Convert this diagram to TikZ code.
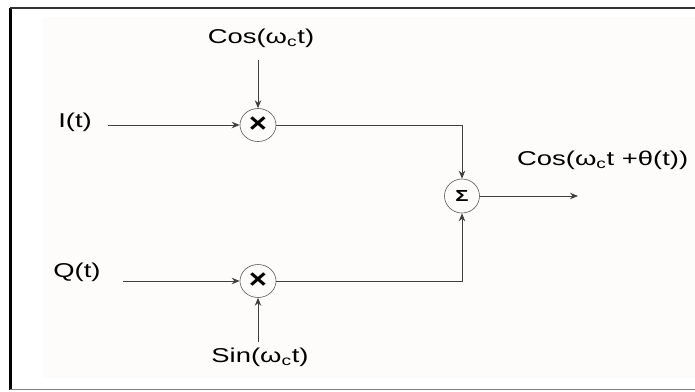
\documentclass[tikz,border=0pt]{standalone}
\usepackage{fontspec}
\setmainfont{Liberation Sans}
\usetikzlibrary{arrows.meta,shapes.geometric}
\newcommand{\wide}[1]{\scalebox{1.37}[1]{#1}}
\definecolor{paper}{RGB}{253,252,250}
\begin{document}
\begin{tikzpicture}[x=1pt,y=-1pt,
  lbl/.style={font=\fontsize{20}{22}\selectfont, inner sep=0pt},
  op/.style={ellipse, draw=black!65, line width=0.6pt, minimum width=36pt, minimum height=33pt, inner sep=0pt},
  wire/.style={draw=black!75, line width=0.9pt},
  arr/.style={wire, -{Stealth[length=8pt,width=6.5pt]}}]
\useasboundingbox (0,0) rectangle (695,391);
\fill[white] (0,0) rectangle (695,391);
\fill[paper] (43,17) rectangle (695,378);
\draw[black, line width=2.4pt] (10.5,8) -- (10.5,390);
\draw[black!80, line width=1.6pt] (9.5,8) -- (695,8);
\draw[black!50, line width=1.4pt] (9.5,389.5) -- (695,389.5);
\node[op] (m1) at (258,125) {\scalebox{1.15}[1]{\fontsize{27}{27}\selectfont\bfseries ×}};
\node[op] (m2) at (258,281) {\scalebox{1.15}[1]{\fontsize{27}{27}\selectfont\bfseries ×}};
\node[op, minimum width=35pt, minimum height=34pt] (s) at (462,196) {\wide{\fontsize{16}{16}\selectfont\bfseries Σ}};
\node[lbl] (cos) at (261,38) {\wide{Cos(ω\textsubscript{c}t)}};
\node[lbl] (sin) at (260,357) {\wide{Sin(ω\textsubscript{c}t)}};
\node[lbl] (i) at (75,122) {\wide{I(t)}};
\node[lbl] (q) at (77,272) {\wide{Q(t)}};
\node[lbl, anchor=west] (out) at (517,160) {\wide{Cos(ω\textsubscript{c}t +θ(t))}};
\coordinate (istart) at (108,125);
\coordinate (qstart) at (123,281);
\coordinate (cosend) at (258,60);
\coordinate (sinend) at (258,342);
\coordinate (outend) at (578,196);
\draw[arr] (istart) -- (m1.west);
\draw[arr] (qstart) -- (m2.west);
\draw[arr] (cosend) -- (m1.north);
\draw[arr] (sinend) -- (m2.south);
\draw[arr] (m1.east) -| (s.north);
\draw[arr] (m2.east) -| (s.south);
\draw[arr] (s.east) -- (outend);
\end{tikzpicture}
\end{document}
